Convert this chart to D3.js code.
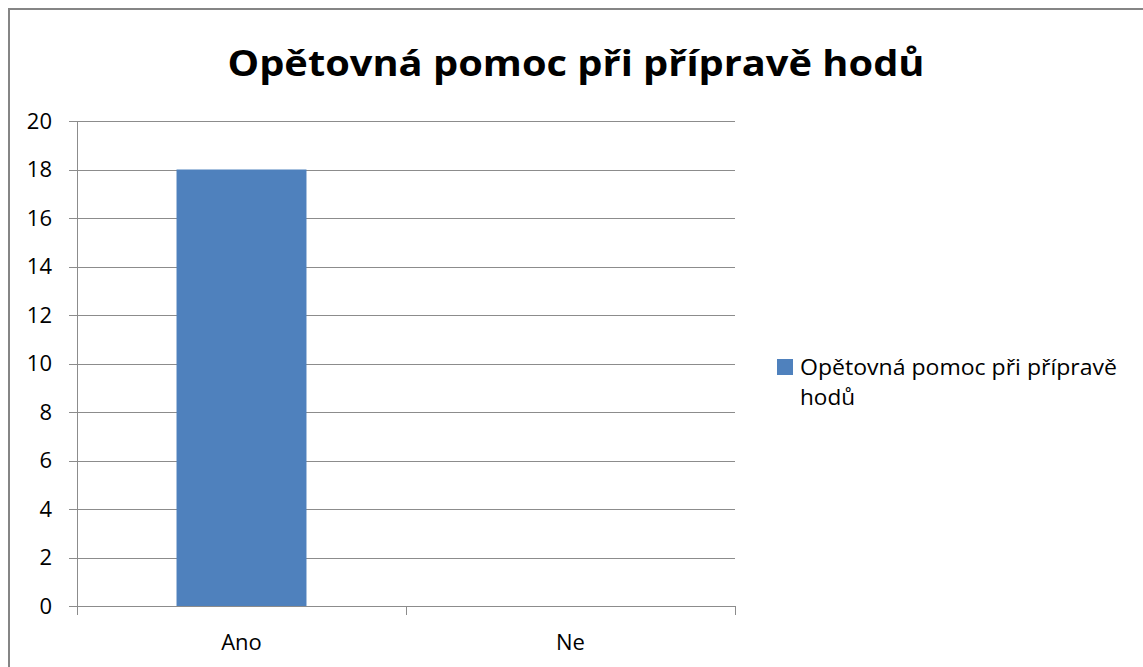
<!DOCTYPE html>
<html>
<head>
<meta charset="utf-8">
<script src="https://cdn.jsdelivr.net/npm/d3@7"></script>
<style>
  html, body { margin: 0; background: #fff; overflow: hidden; }
  svg { display: block; }
  text { font-family: "Open Sans", "Noto Sans", sans-serif; fill: #000; }
</style>
</head>
<body>
<svg id="chart" width="1143" height="667"></svg>
<script>
const title = 'Opětovná pomoc při přípravě hodů';
const seriesName = 'Opětovná pomoc při přípravě hodů';
const categories = ['Ano', 'Ne'];
const values = [18, 0];
const yTicks = [0, 2, 4, 6, 8, 10, 12, 14, 16, 18, 20];

const svg = d3.select('#chart');

// outer frame (cut off at right and bottom)
svg.append('path')
  .attr('d', 'M9,667 L9,9 L1143,9')
  .attr('fill', 'none')
  .attr('stroke', '#858585')
  .attr('stroke-width', 2);

const plotLeft = 77, plotRight = 735, plotTop = 121, plotBottom = 606;

const x = d3.scaleBand()
  .domain(categories)
  .range([plotLeft, plotRight]);

const y = d3.scaleLinear()
  .domain([0, 20])
  .range([plotBottom, plotTop]);

// gridlines
svg.append('g')
  .selectAll('line')
  .data(yTicks)
  .enter()
  .append('line')
  .attr('x1', plotLeft - 8)
  .attr('x2', plotRight)
  .attr('y1', d => Math.round(y(d)) + 0.5)
  .attr('y2', d => Math.round(y(d)) + 0.5)
  .attr('stroke', '#8c8c8c')
  .attr('stroke-width', 1);

// bars
const barW = x.bandwidth() * 0.395;
svg.append('g')
  .selectAll('rect')
  .data(values)
  .enter()
  .append('rect')
  .attr('x', (d, i) => x(categories[i]) + (x.bandwidth() - barW) / 2)
  .attr('y', d => y(d))
  .attr('width', barW)
  .attr('height', d => y(0) - y(d))
  .attr('fill', '#4f81bd');

// y axis line
svg.append('line')
  .attr('x1', plotLeft + 0.5).attr('x2', plotLeft + 0.5)
  .attr('y1', plotTop).attr('y2', plotBottom)
  .attr('stroke', '#8c8c8c');

// x axis ticks at category boundaries
const bounds = categories.map(c => x(c)).concat([plotRight]);
svg.append('g')
  .selectAll('line')
  .data(bounds)
  .enter()
  .append('line')
  .attr('x1', d => Math.round(d) + 0.5)
  .attr('x2', d => Math.round(d) + 0.5)
  .attr('y1', plotBottom)
  .attr('y2', plotBottom + 9)
  .attr('stroke', '#8c8c8c');

// y labels
svg.append('g')
  .selectAll('text')
  .data(yTicks)
  .enter()
  .append('text')
  .attr('x', 52)
  .attr('y', d => y(d))
  .attr('dy', '0.36em')
  .attr('text-anchor', 'end')
  .attr('font-size', 22)
  .text(d => d);

// x labels
svg.append('g')
  .selectAll('text')
  .data(categories)
  .enter()
  .append('text')
  .attr('x', d => x(d) + x.bandwidth() / 2)
  .attr('y', 642)
  .attr('dy', '0.36em')
  .attr('text-anchor', 'middle')
  .attr('font-size', 22)
  .text(d => d);

// title
svg.append('text')
  .attr('x', 576)
  .attr('y', 76)
  .attr('text-anchor', 'middle')
  .attr('font-size', 36)
  .attr('font-weight', 'bold')
  .attr('textLength', 697)
  .attr('lengthAdjust', 'spacingAndGlyphs')
  .text(title);

// legend
svg.append('rect')
  .attr('x', 777).attr('y', 359)
  .attr('width', 16).attr('height', 16)
  .attr('fill', '#4f81bd');

const words = seriesName.split(' ');
svg.append('text')
  .attr('x', 800)
  .attr('y', 367)
  .attr('dy', '0.36em')
  .attr('font-size', 22)
  .attr('textLength', 317)
  .attr('lengthAdjust', 'spacingAndGlyphs')
  .text(words.slice(0, 4).join(' '));
svg.append('text')
  .attr('x', 800)
  .attr('y', 397)
  .attr('dy', '0.36em')
  .attr('font-size', 22)
  .attr('textLength', 55)
  .attr('lengthAdjust', 'spacingAndGlyphs')
  .text(words.slice(4).join(' '));
</script>
</body>
</html>
